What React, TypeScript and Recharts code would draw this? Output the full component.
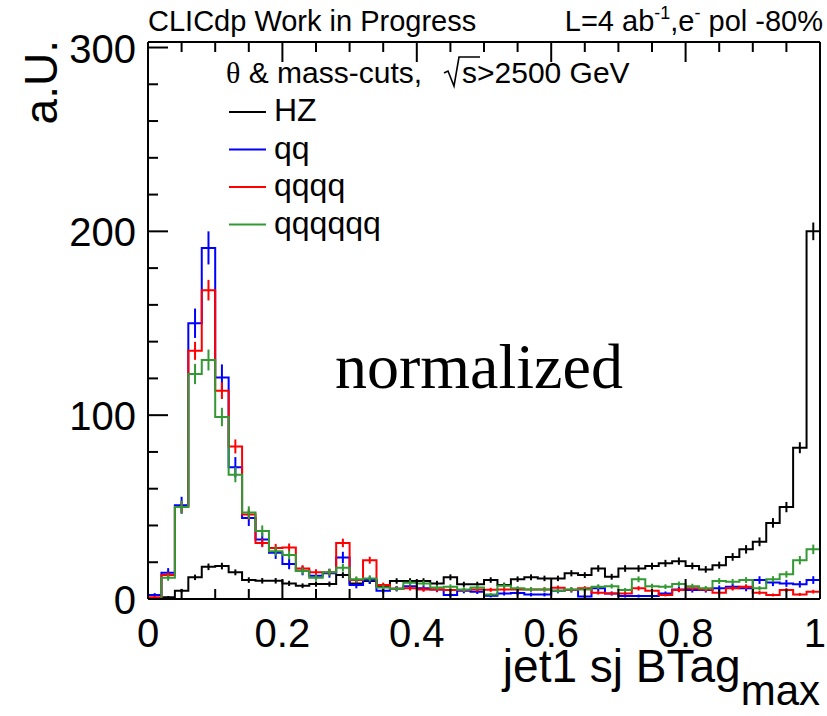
import React from "react";
import { ComposedChart, Line, XAxis, YAxis, ErrorBar } from "recharts";

// 50 bins of width 0.02 on [0, 1]
const binWidth = 0.02;

const seriesNames = ["HZ", "qq", "qqqq", "qqqqqq"];
const seriesColors = ["#000000", "#0000ff", "#ff0000", "#339933"];

const hz = [
  0, 1, 4.5, 11.8, 17.5, 17.9, 14.5, 10.3, 9.9, 9.9,
  8.5, 7.2, 8.1, 8.1, 13, 8.5, 9.8, 7, 9.8, 9.8,
  9.8, 8.5, 11.8, 8, 8, 10.3, 7.6, 10.8, 11.8, 11.2,
  11.2, 14, 13, 16.6, 12.1, 16.6, 16.6, 17.9, 19.4, 20.6,
  18, 16.1, 18.4, 22.9, 27, 31.1, 41.4, 50, 82.3, 200,
];
const hzErr = [
  0, 0.6, 1.0, 1.5, 1.8, 1.8, 1.6, 1.5, 1.5, 1.5,
  1.4, 1.3, 1.4, 1.4, 1.6, 1.4, 1.5, 1.3, 1.5, 1.5,
  1.5, 1.4, 1.6, 1.4, 1.4, 1.5, 1.3, 1.5, 1.6, 1.5,
  1.5, 1.7, 1.6, 1.8, 1.6, 1.8, 1.8, 1.8, 1.9, 2.0,
  1.8, 1.8, 1.9, 2.1, 2.3, 2.4, 2.6, 2.8, 3.0, 4.8,
];

const qq = [
  2.2, 14.3, 51, 150, 191, 120.5, 71.7, 44, 32.4, 25.1,
  19, 15.4, 12.6, 14, 22.6, 7.6, 10.3, 4.5, 5.6, 7,
  5.8, 5.2, 2.2, 4.5, 4, 1.8, 3, 3.3, 2.4, 2.4,
  4.5, 4.9, 1.3, 5.8, 3, 1.6, 1.6, 1.6, 3, 5.2,
  4.9, 4.9, 5.8, 6.7, 5.8, 10.3, 9, 8.5, 8, 10.3,
];
const qqErr = [
  1.0, 2.5, 4.6, 8.0, 9.0, 7.1, 5.5, 4.3, 3.7, 3.3,
  2.8, 2.5, 2.3, 2.4, 3.1, 1.8, 2.1, 1.4, 1.5, 1.7,
  1.6, 1.5, 1.0, 1.4, 1.3, 0.9, 1.1, 1.2, 1.0, 1.0,
  1.4, 1.4, 0.7, 1.6, 1.1, 0.8, 0.8, 0.8, 1.1, 1.5,
  1.4, 1.4, 1.6, 1.7, 1.6, 2.1, 2.0, 1.9, 1.8, 2.1,
];

const qqqq = [
  1, 13, 50, 135, 168, 113.3, 83, 46, 30.5, 27.8,
  28, 16.6, 14.5, 14.5, 30.5, 10.3, 21.1, 7.6, 5.6, 5.8,
  5.2, 5.2, 4.9, 4.9, 5.2, 5, 5.2, 5.2, 5.2, 5.2,
  6.1, 5, 5.8, 3.4, 3, 3, 5.8, 4.5, 2.2, 4.9,
  5.8, 5.2, 3.4, 5.8, 6.7, 3.4, 2.2, 4.9, 2.5, 4,
];
const qqqqErr = [
  0.5, 1.6, 3.0, 4.9, 5.6, 4.5, 3.8, 2.8, 2.3, 2.2,
  2.2, 1.8, 1.7, 1.7, 2.3, 1.5, 1.9, 1.3, 1.2, 1.2,
  1.2, 1.2, 1.1, 1.1, 1.2, 1.1, 1.2, 1.2, 1.2, 1.2,
  1.2, 1.1, 1.2, 1.0, 0.9, 0.9, 1.2, 1.1, 0.8, 1.1,
  1.2, 1.2, 1.0, 1.2, 1.3, 1.0, 0.8, 1.1, 0.8, 1.0,
];

const qqqqqq = [
  0, 11.6, 50, 122.4, 130, 99, 67.6, 47, 37, 26,
  23.9, 15.2, 11.6, 14.6, 17, 10.7, 11.2, 6.3, 5.6, 8.8,
  8.5, 6.3, 6.7, 5.2, 6.3, 2.5, 7.2, 5.8, 5.2, 5.2,
  4.5, 5.2, 5.2, 6.7, 7, 4.9, 10.7, 7, 6.7, 8.1,
  7, 5.9, 9.8, 9.4, 10.3, 5.8, 10.8, 13.4, 21.1, 27,
];
const qqqqqqErr = [
  0, 1.7, 3.5, 5.5, 5.7, 5.0, 4.1, 3.4, 3.0, 2.5,
  2.4, 1.9, 1.7, 1.9, 2.1, 1.6, 1.7, 1.3, 1.2, 1.5,
  1.5, 1.3, 1.3, 1.2, 1.3, 0.8, 1.3, 1.2, 1.2, 1.2,
  1.1, 1.2, 1.2, 1.3, 1.3, 1.1, 1.6, 1.3, 1.3, 1.4,
  1.3, 1.2, 1.6, 1.5, 1.6, 1.2, 1.6, 1.8, 2.3, 2.6,
];

const xTicks = [
  0, 0.05, 0.1, 0.15, 0.2, 0.25, 0.3, 0.35, 0.4, 0.45, 0.5,
  0.55, 0.6, 0.65, 0.7, 0.75, 0.8, 0.85, 0.9, 0.95, 1,
];
const yTicks = [0, 20, 40, 60, 80, 100, 120, 140, 160, 180, 200, 220, 240, 260, 280, 300];

const SANS = "'Liberation Sans', Arial, Helvetica, sans-serif";
const SERIF = "'Liberation Serif', 'Times New Roman', serif";

const keys = ["hz", "qq", "q4", "q6"];
const values = [hz, qq, qqqq, qqqqqq];
const errors = [hzErr, qqErr, qqqqErr, qqqqqqErr];

// step rows: one point per low bin edge, plus the upper edge of the last bin
const stepRows = hz.map((_, i) => {
  const row: any = { x: +(i * binWidth).toFixed(2) };
  keys.forEach((k, s) => (row[k] = values[s][i]));
  return row;
});
const lastRow: any = { x: 1 };
keys.forEach((k, s) => (lastRow[k] = values[s][hz.length - 1]));
stepRows.push(lastRow);

const centerRows = (vals: number[], errs: number[]) =>
  vals.map((v, i) => ({ x: (i + 0.5) * binWidth, v, e: errs[i] }));

const isMajorX = (v: number) => Math.abs(v * 5 - Math.round(v * 5)) < 1e-6;
const isMajorY = (v: number) => v % 100 === 0;

const BottomTick = (props: any) => {
  const { x, y, payload } = props;
  const v = payload.value;
  const major = isMajorX(v);
  const label = v === 0 ? "0" : v === 1 ? "1" : v.toFixed(1);
  // the last label is pulled in so it stays on the canvas
  const last = v === 1;
  return (
    <g>
      <line x1={x} y1={y} x2={x} y2={y - (major ? 20 : 10)} stroke="#000" strokeWidth={2} />
      {major && (
        <text
          x={last ? x + 6 : x}
          y={y + 48}
          textAnchor={last ? "end" : "middle"}
          fontSize={40}
          fontFamily={SANS}
          fill="#000"
        >
          {label}
        </text>
      )}
    </g>
  );
};

const TopTick = (props: any) => {
  const { x, y, payload } = props;
  const major = isMajorX(payload.value);
  return <line x1={x} y1={y} x2={x} y2={y + (major ? 20 : 10)} stroke="#000" strokeWidth={2} />;
};

const LeftTick = (props: any) => {
  const { x, y, payload } = props;
  const major = isMajorY(payload.value);
  return (
    <g>
      <line x1={x} y1={y} x2={x + (major ? 20 : 10)} y2={y} stroke="#000" strokeWidth={2} />
      {major && (
        <text x={x - 12} y={y + 15} textAnchor="end" fontSize={40} fontFamily={SANS} fill="#000">
          {payload.value}
        </text>
      )}
    </g>
  );
};

const RightTick = (props: any) => {
  const { x, y, payload } = props;
  const major = isMajorY(payload.value);
  return <line x1={x} y1={y} x2={x - (major ? 20 : 10)} y2={y} stroke="#000" strokeWidth={2} />;
};

const legendY = [112, 149.5, 187, 224.5];

export default function App() {
  return (
    <div style={{ position: "absolute", left: 0, top: 0, width: 827, height: 716, background: "#fff" }}>
      <ComposedChart width={827} height={716} data={stepRows} margin={{ top: 0, right: 0, bottom: 0, left: 0 }}>
        <XAxis
          xAxisId="b"
          dataKey="x"
          type="number"
          domain={[0, 1]}
          ticks={xTicks}
          interval={0}
          height={117}
          tickSize={0}
          tickMargin={0}
          tickLine={false}
          axisLine={{ stroke: "#000", strokeWidth: 2 }}
          tick={(p: any) => <BottomTick {...p} />}
        />
        <XAxis
          xAxisId="t"
          orientation="top"
          dataKey="x"
          type="number"
          domain={[0, 1]}
          ticks={xTicks}
          interval={0}
          height={42}
          tickSize={0}
          tickMargin={0}
          tickLine={false}
          axisLine={{ stroke: "#000", strokeWidth: 2 }}
          tick={(p: any) => <TopTick {...p} />}
        />
        <YAxis
          yAxisId="l"
          type="number"
          domain={[0, 303]}
          ticks={yTicks}
          interval={0}
          width={148}
          tickSize={0}
          tickMargin={0}
          tickLine={false}
          axisLine={{ stroke: "#000", strokeWidth: 2 }}
          tick={(p: any) => <LeftTick {...p} />}
        />
        <YAxis
          yAxisId="r"
          orientation="right"
          type="number"
          domain={[0, 303]}
          ticks={yTicks}
          interval={0}
          width={7}
          tickSize={0}
          tickMargin={0}
          tickLine={false}
          axisLine={{ stroke: "#000", strokeWidth: 2 }}
          tick={(p: any) => <RightTick {...p} />}
        />
        {keys.map((k, s) => [
          <Line
            key={k}
            xAxisId="b"
            yAxisId="l"
            type="stepAfter"
            dataKey={k}
            stroke={seriesColors[s]}
            strokeWidth={2}
            dot={false}
            activeDot={false}
            isAnimationActive={false}
          />,
          <Line
            key={k + "-err"}
            xAxisId="b"
            yAxisId="l"
            data={centerRows(values[s], errors[s])}
            dataKey="v"
            stroke="none"
            dot={false}
            activeDot={false}
            isAnimationActive={false}
          >
            <ErrorBar dataKey="e" width={0} stroke={seriesColors[s]} strokeWidth={2} direction="y" />
          </Line>,
        ])}
      </ComposedChart>

      <svg
        width={827}
        height={716}
        style={{ position: "absolute", left: 0, top: 0, pointerEvents: "none" }}
        fontFamily={SANS}
      >
        <text x={148} y={31} fontSize={29}>CLICdp Work in Progress</text>
        <text x={823} y={31} fontSize={29} textAnchor="end">
          L=4 ab<tspan fontSize={18} dy={-12}>-1</tspan>
          <tspan dy={12}>,e</tspan>
          <tspan fontSize={18} dy={-12}>-</tspan>
          <tspan dy={12}> pol -80%</tspan>
        </text>

        <text x={226} y={83} fontSize={30}>
          <tspan fontFamily={SERIF}>{"\u03b8"}</tspan>
          {" & mass-cuts,"}
        </text>
        <polyline points="444,73 448,71 454,86 459,57 480,57" fill="none" stroke="#000" strokeWidth={1.6} />
        <text x={462} y={83} fontSize={30}>{"s>2500 GeV"}</text>

        {seriesNames.map((n, s) => (
          <g key={n}>
            <line x1={229} y1={legendY[s]} x2={266} y2={legendY[s]} stroke={seriesColors[s]} strokeWidth={2} />
            <text x={274} y={legendY[s] + 9} fontSize={32}>{n}</text>
          </g>
        ))}

        <text x={335} y={388} fontSize={64} fontFamily={SERIF}>normalized</text>

        <text transform="translate(57,40) rotate(-90)" textAnchor="end" fontSize={46}>a.U.</text>

        <text x={820} y={682} textAnchor="end" fontSize={46}>
          jet1 sj BTag<tspan fontSize={42} dy={23}>max</tspan>
        </text>
      </svg>
    </div>
  );
}
